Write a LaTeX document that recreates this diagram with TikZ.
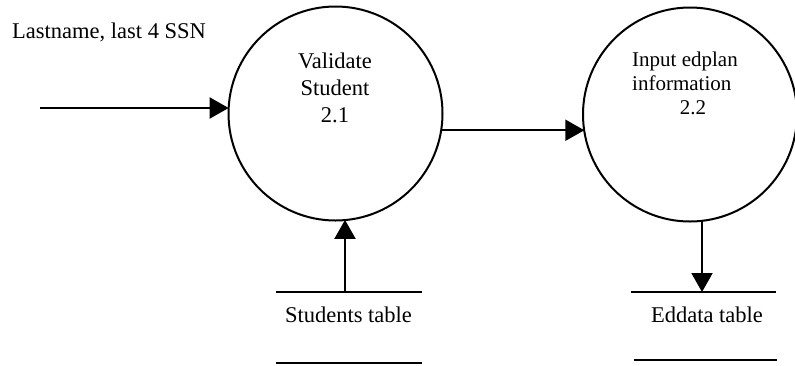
\documentclass[tikz,border=0pt]{standalone}
\usepackage{fontspec}
\setmainfont{Liberation Serif}
\usetikzlibrary{arrows.meta}

\begin{document}
\begin{tikzpicture}[x=1pt, y=-1pt,
  process/.style={circle, draw, line width=2pt, minimum size=214pt,
                  inner sep=0pt, outer sep=0pt},
  flow/.style={line width=2pt, -{Triangle[length=19pt, width=21pt]}},
  storeline/.style={line width=2pt},
  lbl/.style={inner sep=0pt, anchor=base, font=\fontsize{22.5}{27}\selectfont},
  tlbl/.style={inner sep=0pt, anchor=base west, font=\fontsize{21}{24}\selectfont}
]
\useasboundingbox (0,0) rectangle (795,365);

% processes
\node[process] (p1) at (335.5,113.5) {};
\node[process] (p2) at (690,114.5) {};

% process 2.1 label
\node[lbl] (v1) at (335,68) {Validate};
\node[lbl] (v2) at (335,95) {Student};
\node[lbl] (v3) at (335,122) {2.1};

% process 2.2 label
\node[tlbl] (e1) at (632,66) {Input edplan};
\node[tlbl] (e2) at (632,90) {information};
\node[tlbl, anchor=base] (e3) at (693,114) {2.2};

% incoming data flow
\node[lbl, anchor=base west] (inlbl) at (12,38) {Lastname, last 4 SSN};
\coordinate (src) at (40,108);
\draw[flow] (src) -- (src -| p1.177.05);

% flow between processes
\draw[flow] (p1.-9.96) -- (p1.-9.96 -| p2.189.41);

% data store: Students table
\draw[storeline] (276,292) -- (422,292);
\draw[storeline] (276,363) -- (422,363);
\node[lbl] (stud) at (348.5,322) {Students table};
\coordinate (studtop) at (345,292);
\draw[flow] (studtop) -- (studtop |- p1.-84.9);

% data store: Eddata table
\draw[storeline] (631,292) -- (776,292);
\draw[storeline] (634,360) -- (777,360);
\node[lbl] (edd) at (707,322) {Eddata table};
\coordinate (eddtop) at (702,292);
\draw[flow] (eddtop |- p2.-83.56) -- (eddtop);
\end{tikzpicture}
\end{document}
